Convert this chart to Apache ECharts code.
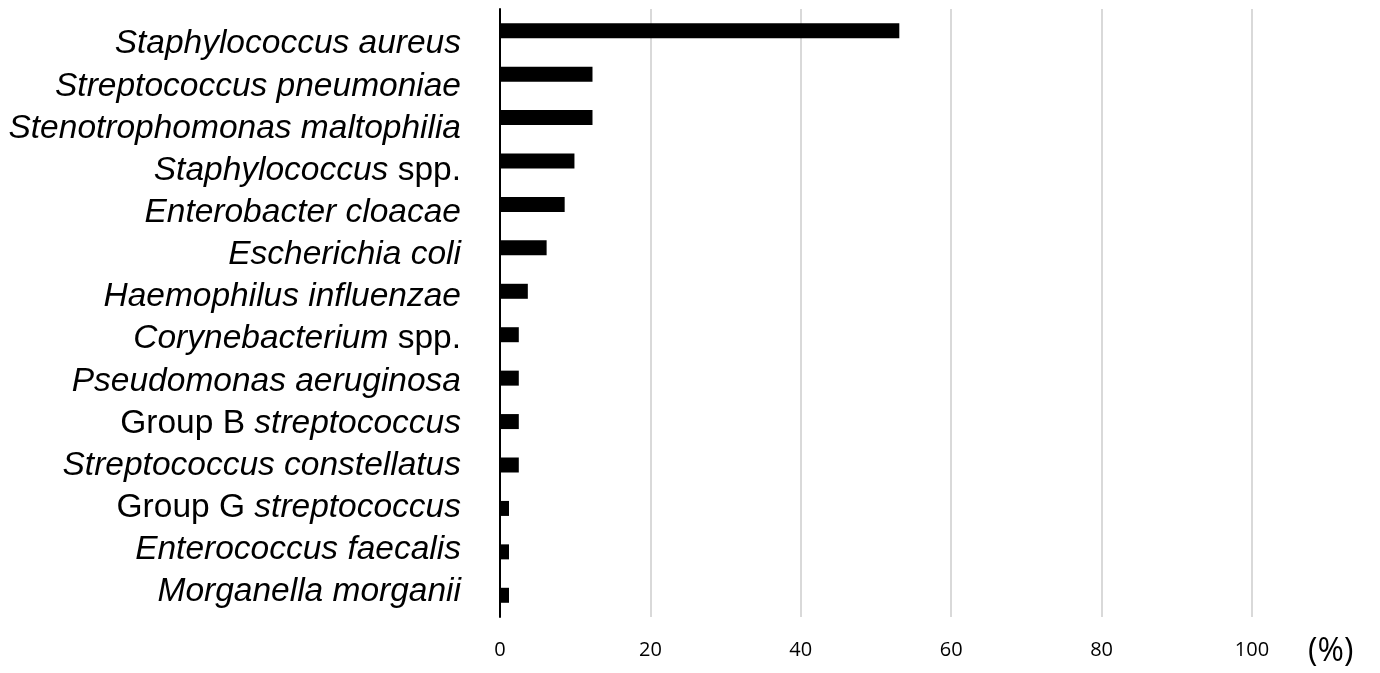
<!DOCTYPE html>
<html>
<head>
<meta charset="utf-8">
<script src="https://cdn.jsdelivr.net/npm/echarts@6/dist/echarts.min.js"></script>
<style>
html,body{margin:0;padding:0;background:#fff;}
#chart{width:1380px;height:673px;}
</style>
</head>
<body>
<div id="chart"></div>
<script>
// Categories from top to bottom
const categories = [
  "Staphylococcus aureus",
  "Streptococcus pneumoniae",
  "Stenotrophomonas maltophilia",
  "Staphylococcus spp.",
  "Enterobacter cloacae",
  "Escherichia coli",
  "Haemophilus influenzae",
  "Corynebacterium spp.",
  "Pseudomonas aeruginosa",
  "Group B streptococcus",
  "Streptococcus constellatus",
  "Group G streptococcus",
  "Enterococcus faecalis",
  "Morganella morganii"
];
const values = [53.1, 12.3, 12.3, 9.9, 8.6, 6.2, 3.7, 2.5, 2.5, 2.5, 2.5, 1.2, 1.2, 1.2];
const xTicks = [0, 20, 40, 60, 80, 100];

const chart = echarts.init(document.getElementById('chart'));

function richLabel(name) {
  if (name.endsWith(' spp.')) {
    return '{i|' + name.slice(0, -5) + '}{n| spp.}';
  }
  const m = name.match(/^(Group [A-Z] )(.*)$/);
  if (m) {
    return '{n|' + m[1] + '}{i|' + m[2] + '}';
  }
  return '{i|' + name + '}';
}

const labelFont = {fontFamily: 'Liberation Sans, Arial, sans-serif', fontSize: 33.5, color: '#000'};

chart.setOption({
  animation: false,
  grid: [
    {left: 500, right: 128, top: 9, bottom: 56, containLabel: false},
    {left: 500, right: 128, top: 23, height: 590, containLabel: false}
  ],
  xAxis: [{
    type: 'value',
    gridIndex: 0,
    min: xTicks[0],
    max: xTicks[xTicks.length - 1],
    interval: 20,
    name: '(%)',
    nameLocation: 'end',
    nameGap: 56,
    nameTextStyle: {fontFamily: 'Open Sans, sans-serif', fontSize: 32, color: '#000', verticalAlign: 'top', padding: [19, 0, 0, 0]},
    axisLine: {show: false},
    axisTick: {show: false},
    axisLabel: {fontFamily: 'Open Sans, sans-serif', fontSize: 20, color: '#000', margin: 23},
    splitLine: {show: true, lineStyle: {color: '#d9d9d9', width: 2}}
  }, {
    type: 'value',
    gridIndex: 1,
    min: 0,
    max: 100,
    show: false
  }],
  yAxis: [{
    type: 'category',
    gridIndex: 0,
    data: categories,
    inverse: true,
    axisLine: {show: true, lineStyle: {color: '#000', width: 2}},
    axisTick: {show: false},
    axisLabel: {show: false}
  }, {
    type: 'category',
    gridIndex: 1,
    data: categories,
    inverse: true,
    axisLine: {show: false},
    axisTick: {show: false},
    splitLine: {show: false},
    axisLabel: {
      margin: 39,
      formatter: richLabel,
      rich: {
        i: Object.assign({fontStyle: 'italic'}, labelFont),
        n: Object.assign({fontStyle: 'normal'}, labelFont)
      }
    }
  }],
  series: [{
    type: 'bar',
    xAxisIndex: 0,
    yAxisIndex: 0,
    data: values,
    barWidth: 15,
    itemStyle: {color: '#000'}
  }]
});
</script>
</body>
</html>
